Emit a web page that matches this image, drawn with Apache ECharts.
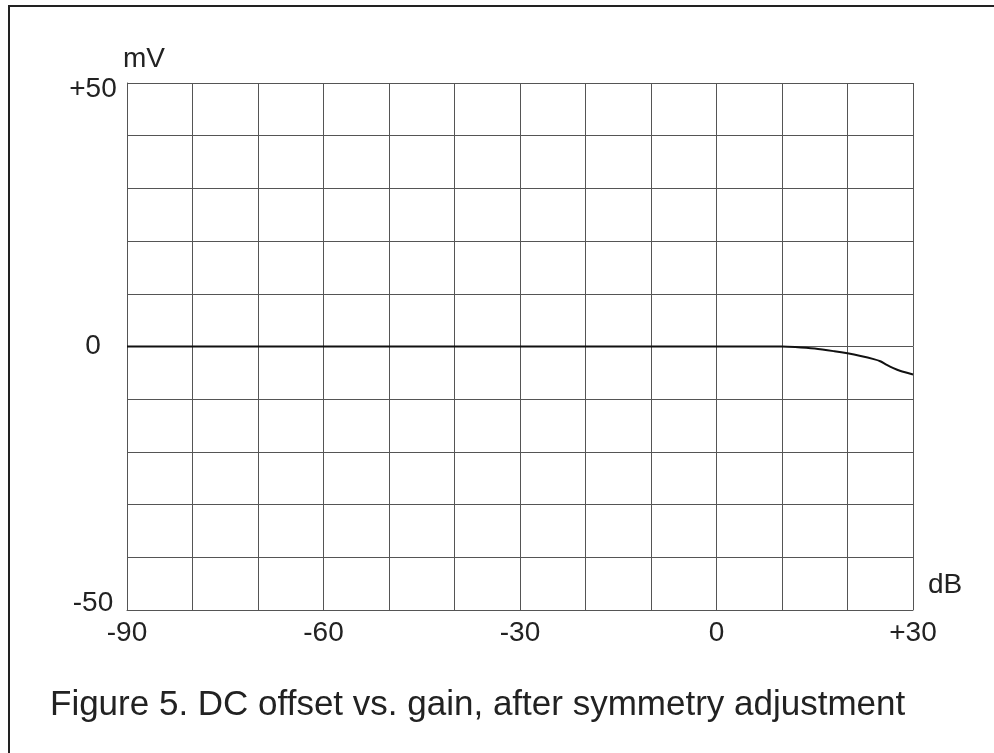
<!DOCTYPE html>
<html><head><meta charset="utf-8">
<script src="https://cdn.jsdelivr.net/npm/echarts@6/dist/echarts.min.js"></script>
<style>html,body{margin:0;padding:0;background:#fff}#c{width:994px;height:753px}</style>
</head><body><div id="c"></div>
<script>
const gainDb = [-90, -60, -30, 0, 10, 12, 15, 18, 20, 22, 24, 25, 26, 27, 28, 30];
const offsetMv = [0, 0, 0, 0, 0, -0.1, -0.4, -0.9, -1.3, -1.8, -2.4, -2.8, -3.5, -4.1, -4.6, -5.3];
const xTickLabels = {'-90':'-90','-60':'-60','-30':'-30','0':'0','30':'+30'};
const yTickLabels = {'-50':'-50','0':'0','50':'+50'};
const caption = 'Figure 5. DC offset vs. gain, after symmetry adjustment';

const FONT = 'Liberation Sans';
const chart = echarts.init(document.getElementById('c'));
chart.setOption({
  animation:false,
  backgroundColor:'#fff',
  grid:{left:127,right:81,top:83,bottom:143},
  xAxis:{type:'value',min:-90,max:30,interval:10,
    name:'dB',nameLocation:'end',nameGap:15,
    nameTextStyle:{fontFamily:FONT,fontSize:28,color:'#222',verticalAlign:'bottom',align:'left',padding:[0,0,11,0]},
    axisLine:{show:true,onZero:false,lineStyle:{color:'#555',width:1}},
    axisTick:{show:false},
    splitLine:{show:true,lineStyle:{color:'#555',width:1}},
    axisLabel:{fontFamily:FONT,fontSize:28,color:'#222',margin:9,
      formatter:v=>xTickLabels[String(v)]||''}},
  yAxis:{type:'value',min:-50,max:50,interval:10,
    name:'mV',nameLocation:'end',nameGap:10,
    nameTextStyle:{fontFamily:FONT,fontSize:28,color:'#222',align:'left',padding:[0,0,0,-4]},
    axisLine:{show:true,onZero:false,lineStyle:{color:'#555',width:1}},
    axisTick:{show:false},
    splitLine:{show:true,lineStyle:{color:'#555',width:1}},
    axisLabel:{fontFamily:FONT,fontSize:28,color:'#222',margin:34,align:'center',
      formatter:v=>{
        const t = yTickLabels[String(v)]||'';
        if (v===50) return '{dn|'+t+'}';
        if (v===-50) return '{up|'+t+'}';
        return t;
      },
      rich:{
        dn:{fontFamily:FONT,fontSize:28,color:'#222',padding:[12,0,0,0]},
        up:{fontFamily:FONT,fontSize:28,color:'#222',padding:[0,0,14,0]}
      }}},
  series:[{type:'line',data:gainDb.map((x,i)=>[x,offsetMv[i]]),smooth:0.3,
    showSymbol:false,lineStyle:{color:'#111',width:2}}],
  graphic:[
    {type:'rect',shape:{x:9,y:6,width:1000,height:800},style:{fill:null,stroke:'#222',lineWidth:2},z:-1},
    {type:'text',left:50,top:688,style:{text:caption,fontFamily:FONT,fontSize:35,fill:'#222'}}
  ]
});
</script></body></html>
